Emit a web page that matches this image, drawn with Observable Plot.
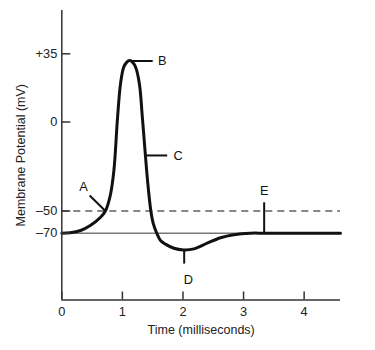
<!DOCTYPE html>
<html>
<head>
<meta charset="utf-8">
<script src="https://cdn.jsdelivr.net/npm/d3@7"></script>
<script src="https://cdn.jsdelivr.net/npm/@observablehq/plot@0.6"></script>
<style>
  html, body { margin: 0; padding: 0; background: #fff; }
</style>
</head>
<body>
<div id="chart"></div>
<script>
// Membrane potential trace (time in ms, potential in mV)
const times = [0, 0.14, 0.31, 0.47, 0.64, 0.72, 0.80, 0.86, 0.92, 0.97, 1.02, 1.07, 1.12, 1.17, 1.22, 1.28, 1.33, 1.38, 1.42, 1.47, 1.51, 1.57, 1.63, 1.71, 1.85, 2.01, 2.18, 2.40, 2.62, 2.84, 3.11, 3.36, 4.6];
const volts = [-70, -69.6, -67.6, -63.1, -55.6, -50, -41.3, -27.2, 2.3, 19.8, 28.0, 30.6, 31.5, 30.6, 28.0, 19.8, 2.3, -18.8, -34.6, -50, -61.3, -70.3, -76.6, -79.8, -83.5, -85, -84.1, -79, -74.1, -71.4, -70, -70, -70];

// Axis ticks
const xTicks = [0, 1, 2, 3, 4];
const yTicks = [35, 0, -50, -70];
const yTickLabels = ["+35", "0", "\u201350", "\u201370"];

// Reference levels
const thresholdLevel = -50;
const restingLevel = -70;

// Annotation labels and leader lines
const labelNames = ["A", "B", "C", "D", "E"];
const labelT = [0.36, 1.66, 1.92, 2.09, 3.34];
const labelV = [-36.6, 31.3, -18.8, -111.7, -38.8];
const leaderT1 = [0.46, 1.12, 1.38, 2.02, 3.34];
const leaderV1 = [-41.3, 31.3, -18.8, -85.6, -70];
const leaderT2 = [0.72, 1.50, 1.74, 2.02, 3.34];
const leaderV2 = [-50, 31.3, -18.8, -97.3, -45.1];

// Schematic (piecewise) vertical scale of the original drawing
const yDomain = [-130, -70, -50, 0, 35, 57];
const yRange = [299.5, 232.7, 210.5, 121.5, 53.3, 10];

const trace = times.map((t, i) => ({t, v: volts[i]}));
const labels = labelNames.map((n, i) => ({n, t: labelT[i], v: labelV[i]}));
const leaders = labelNames.map((n, i) => ({t1: leaderT1[i], v1: leaderV1[i], t2: leaderT2[i], v2: leaderV2[i]}));
const fmt = new Map(yTicks.map((d, i) => [d, yTickLabels[i]]));

const chart = Plot.plot({
  width: 375,
  height: 350,
  marginLeft: 61.3,
  marginRight: 35,
  marginTop: 10,
  marginBottom: 50.5,
  style: {fontFamily: "'Liberation Sans', Arial, sans-serif", fontSize: "12.5px", color: "#222", background: "#fff"},
  x: {domain: [0, 4.6]},
  y: {type: "linear", domain: yDomain, range: yRange},
  marks: [
    Plot.ruleY([restingLevel], {stroke: "#777", strokeWidth: 1.5}),
    Plot.ruleY([thresholdLevel], {stroke: "#111", strokeWidth: 1.2, strokeDasharray: "7,5"}),
    Plot.line(trace, {x: "t", y: "v", stroke: "#111", strokeWidth: 3, curve: "catmull-rom"}),
    Plot.link(leaders, {x1: "t1", y1: "v1", x2: "t2", y2: "v2", stroke: "#111", strokeWidth: 2}),
    Plot.text(labels, {x: "t", y: "v", text: "n", fontSize: 12.8, fill: "#111"}),
    Plot.axisX({ticks: xTicks, tickFormat: d => String(d), tickSize: -8, tickPadding: 15, stroke: "#333", strokeWidth: 1.5,
      fontSize: 12.8, label: null}),
    Plot.axisX({ticks: [], label: "Time (milliseconds)", labelAnchor: "center", labelArrow: "none", labelOffset: 34}),
    Plot.axisY({ticks: yTicks, tickFormat: d => fmt.get(d), tickSize: -9, tickPadding: 13.5, stroke: "#333", strokeWidth: 1.5,
      fontSize: 12.8, label: null}),
    Plot.axisY({ticks: [], label: "Membrane Potential (mV)", labelAnchor: "center", labelArrow: "none", labelOffset: 46}),
    Plot.ruleX([0], {stroke: "#333", strokeWidth: 1.5}),
    Plot.ruleY([yDomain[0]], {stroke: "#333", strokeWidth: 1.5})
  ]
});
document.getElementById("chart").appendChild(chart);
</script>
</body>
</html>
